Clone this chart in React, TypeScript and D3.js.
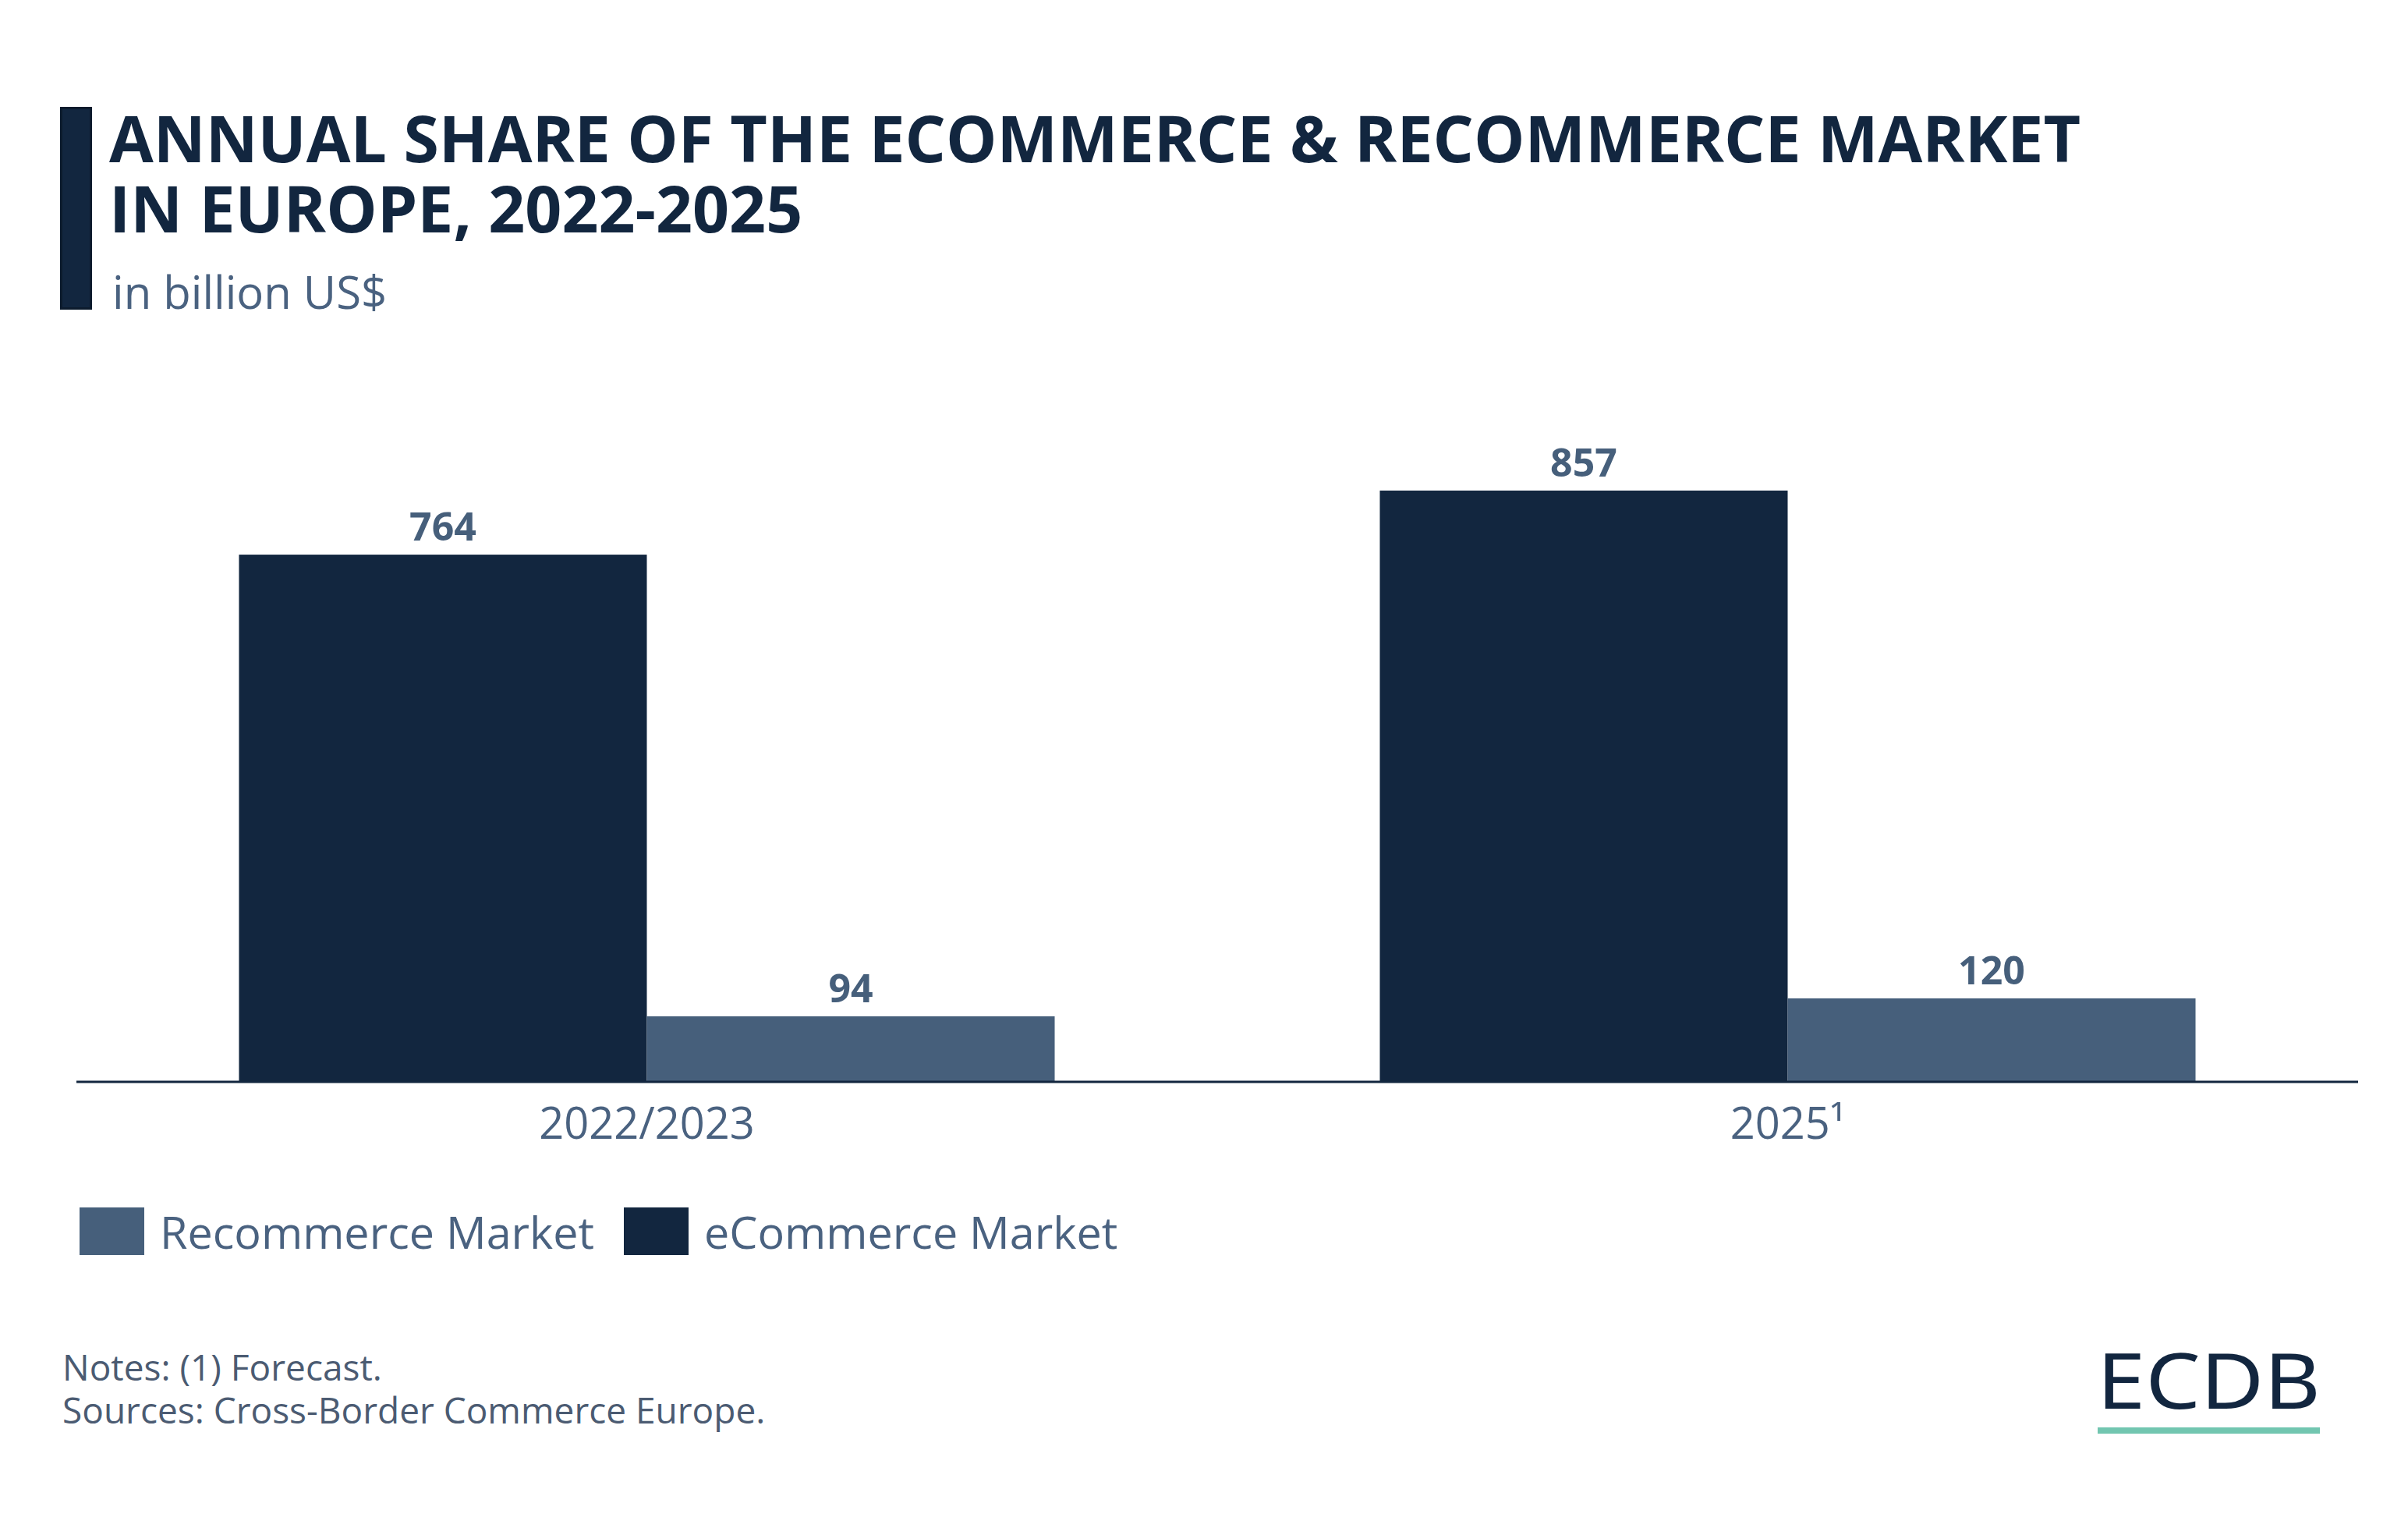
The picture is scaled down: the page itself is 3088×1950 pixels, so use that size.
import React from "react";
import * as d3 from "d3";

const categories = ["2022/2023", "2025¹"];
const seriesNames = ["eCommerce Market", "Recommerce Market"];
const ecommerceValues = [764, 857];
const recommerceValues = [94, 120];
const legendItems = ["Recommerce Market", "eCommerce Market"];

const W = 3088;
const H = 1950;
const DARK = "#12263f";
const SLATE = "#465f7b";
const TEXT = "#4a6280";
const FONT = "'Open Sans', 'Noto Sans', sans-serif";

export default function App() {
  const x0 = d3
    .scaleBand<string>()
    .domain(categories)
    .range([98, 3024])
    .paddingInner(0.285)
    .paddingOuter(0.1425);
  const x1 = d3
    .scaleBand<string>()
    .domain(seriesNames)
    .range([0, x0.bandwidth()])
    .padding(0);
  const baseY = 1386;
  const y = d3.scaleLinear().domain([0, 1000]).range([baseY, baseY - 883.4]);

  const colorOf: Record<string, string> = {
    "eCommerce Market": DARK,
    "Recommerce Market": SLATE,
  };
  const valuesOf: Record<string, number[]> = {
    "eCommerce Market": ecommerceValues,
    "Recommerce Market": recommerceValues,
  };

  return (
    <svg
      width={W}
      height={H}
      viewBox={`0 0 ${W} ${H}`}
      style={{ position: "absolute", left: 0, top: 0, display: "block", background: "#fff" }}
    >
      <rect x={0} y={0} width={W} height={H} fill="#ffffff" />
      {/* Title block */}
      <rect x={78.5} y={138.5} width={38} height={257} fill={DARK} stroke="#0c1b2d" strokeWidth={3} />
      <text x={140} y={208} fontFamily={FONT} fontWeight={700} fontSize={82.3} fill={DARK}>
        ANNUAL SHARE OF THE ECOMMERCE &amp; RECOMMERCE MARKET
      </text>
      <text x={140} y={298} fontFamily={FONT} fontWeight={700} fontSize={82.3} fill={DARK}>
        IN EUROPE, 2022-2025
      </text>
      <text x={144} y={396} fontFamily={FONT} fontWeight={400} fontSize={58} fill={TEXT}>
        in billion US$
      </text>

      {/* Bars */}
      {categories.map((cat, ci) => (
        <g key={cat} transform={`translate(${x0(cat)},0)`}>
          {seriesNames.map((s) => {
            const v = valuesOf[s][ci];
            const bx = x1(s)!;
            const bw = x1.bandwidth();
            return (
              <g key={s}>
                <rect x={bx} y={y(v)} width={bw} height={baseY - y(v)} fill={colorOf[s]} />
                <text
                  x={bx + bw / 2}
                  y={y(v) - 18}
                  textAnchor="middle"
                  fontFamily={FONT}
                  fontWeight={700}
                  fontSize={50}
                  fill={SLATE}
                >
                  {v}
                </text>
              </g>
            );
          })}
        </g>
      ))}

      {/* Axis line */}
      <line x1={98} x2={3024} y1={1387} y2={1387} stroke={DARK} strokeWidth={3} />
      {categories.map((cat) => (
        <text
          key={cat}
          x={x0(cat)! + x0.bandwidth() / 2}
          y={1460}
          textAnchor="middle"
          fontFamily={FONT}
          fontSize={56}
          fill={TEXT}
        >
          {cat}
        </text>
      ))}

      {/* Legend */}
      {legendItems.map((name, i) => {
        const lx = i === 0 ? 102 : 800;
        return (
          <g key={name}>
            <rect x={lx} y={1548} width={83} height={61} fill={colorOf[name]} />
            <text x={lx + 103} y={1601} fontFamily={FONT} fontSize={57.5} fill={TEXT}>
              {name}
            </text>
          </g>
        );
      })}

      {/* Footer */}
      <text x={80} y={1770} fontFamily={FONT} fontSize={46} fill="#4b5b72">
        Notes: (1) Forecast.
      </text>
      <text x={80} y={1825} fontFamily={FONT} fontSize={46} fill="#4b5b72">
        Sources: Cross-Border Commerce Europe.
      </text>

      {/* Logo */}
      <text
        x={2689}
        y={1806}
        fontFamily="'Noto Sans', sans-serif"
        fontWeight={400}
        fontSize={99}
        fill={DARK}
        textLength={287}
        lengthAdjust="spacingAndGlyphs"
      >
        ECDB
      </text>
      <rect x={2690} y={1830} width={285} height={8} fill="#72c6b0" />
    </svg>
  );
}
